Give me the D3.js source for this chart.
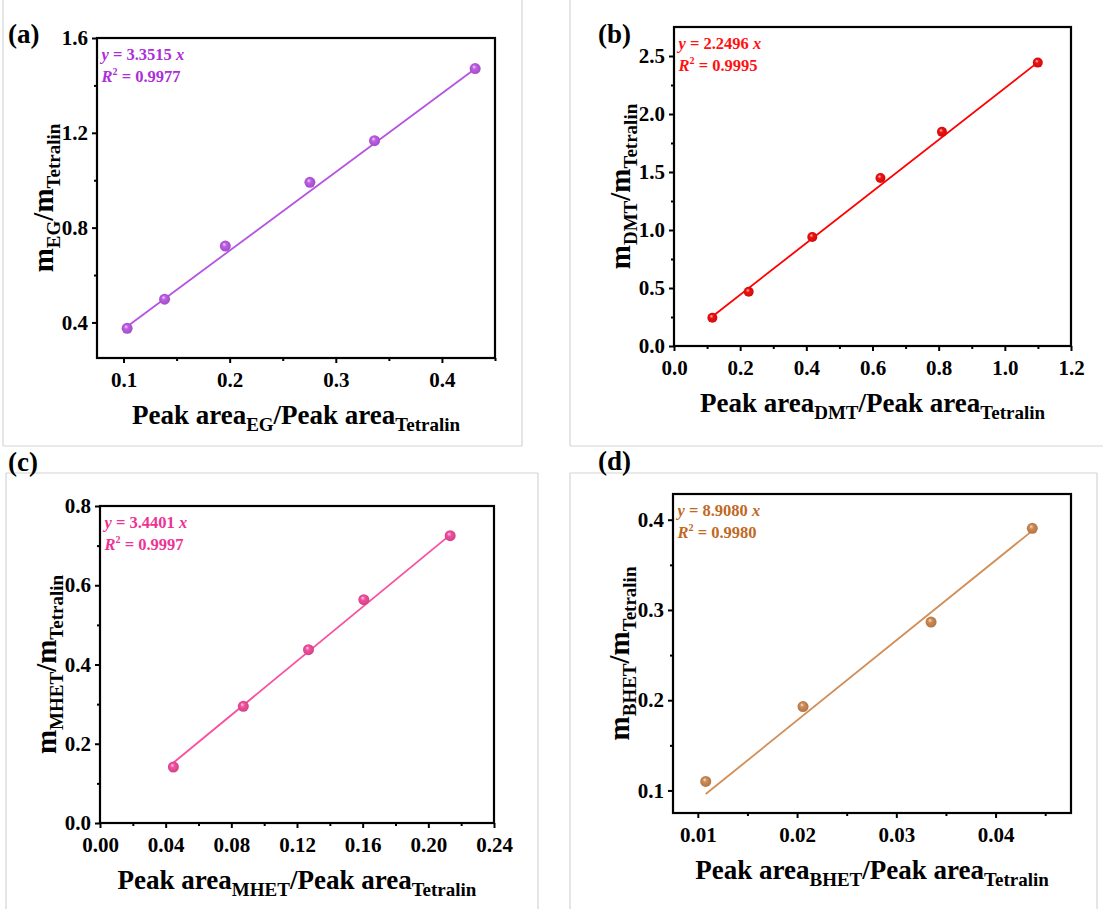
<!DOCTYPE html>
<html><head><meta charset="utf-8">
<script src="https://cdn.jsdelivr.net/npm/d3@7"></script>
<style>
html,body{margin:0;padding:0;background:#fff;}
svg{display:block;}
svg text{font-family:"Liberation Serif","Times New Roman",serif !important;font-weight:bold;}
</style></head>
<body>
<svg id="chart" width="1103" height="909"></svg>
<script>
// ---------- data ----------
const egX = [0.1034, 0.1387, 0.1959, 0.2756, 0.3365, 0.4313];
const egY = [0.375, 0.498, 0.722, 0.991, 1.167, 1.471];
const egFitX = [0.1034, 0.4313];
const egFitY = [0.383, 1.470];

const dmtX = [0.116, 0.2258, 0.418, 0.624, 0.810, 1.0996];
const dmtY = [0.244, 0.467, 0.940, 1.448, 1.846, 2.443];
const dmtFitX = [0.116, 1.0996];
const dmtFitY = [0.255, 2.445];

const mhetX = [0.0447, 0.0873, 0.127, 0.1607, 0.2133];
const mhetY = [0.1413, 0.2944, 0.4374, 0.5636, 0.7251];
const mhetFitX = [0.0447, 0.2133];
const mhetFitY = [0.152, 0.727];

const bhetX = [0.0108, 0.0206, 0.0335, 0.0437];
const bhetY = [0.110, 0.193, 0.2866, 0.3905];
const bhetFitX = [0.0108, 0.0435];
const bhetFitY = [0.096, 0.386];

const egXTicks = [0.1, 0.2, 0.3, 0.4];
const egXMinor = [0.15, 0.25, 0.35, 0.45];
const egYTicks = [0.4, 0.8, 1.2, 1.6];
const egYMinor = [0.6, 1.0, 1.4];

const dmtXTicks = [0, 0.2, 0.4, 0.6, 0.8, 1.0, 1.2];
const dmtXMinor = [0.1, 0.3, 0.5, 0.7, 0.9, 1.1];
const dmtYTicks = [0, 0.5, 1.0, 1.5, 2.0, 2.5];
const dmtYMinor = [0.25, 0.75, 1.25, 1.75, 2.25];

const mhetXTicks = [0, 0.04, 0.08, 0.12, 0.16, 0.20, 0.24];
const mhetXMinor = [0.02, 0.06, 0.10, 0.14, 0.18, 0.22];
const mhetYTicks = [0, 0.2, 0.4, 0.6, 0.8];
const mhetYMinor = [0.1, 0.3, 0.5, 0.7];

const bhetXTicks = [0.01, 0.02, 0.03, 0.04];
const bhetXMinor = [0.015, 0.025, 0.035, 0.045];
const bhetYTicks = [0.1, 0.2, 0.3, 0.4];
const bhetYMinor = [0.15, 0.25, 0.35];

const panelLabels = ["(a)", "(b)", "(c)", "(d)"];
const subs = ["EG", "DMT", "MHET", "BHET"];
const equations = ["3.3515", "2.2496", "3.4401", "8.9080"];
const r2s = ["0.9977", "0.9995", "0.9997", "0.9980"];

// ---------- layout / style ----------
const FONT = '"Liberation Serif","Times New Roman",serif';
const panels = [
  {xs: egX, ys: egY, fx: egFitX, fy: egFitY, xt: egXTicks, xm: egXMinor, yt: egYTicks, ym: egYMinor,
   xd: [0.075, 0.45], yd: [0.25, 1.6], L: 97, R: 495, T: 38, B: 358, xf: ".1f", yf: ".1f",
   line: "#B653E4", text: "#AC2ED8", pt: "#BE5CE6", r: 5.5, lab: [8, 43]},
  {xs: dmtX, ys: dmtY, fx: dmtFitX, fy: dmtFitY, xt: dmtXTicks, xm: dmtXMinor, yt: dmtYTicks, ym: dmtYMinor,
   xd: [0, 1.2], yd: [0, 2.75], L: 674, R: 1071, T: 27, B: 346, xf: ".1f", yf: ".1f",
   line: "#FF0000", text: "#FF1111", pt: "#F01010", r: 5, lab: [598, 43]},
  {xs: mhetX, ys: mhetY, fx: mhetFitX, fy: mhetFitY, xt: mhetXTicks, xm: mhetXMinor, yt: mhetYTicks, ym: mhetYMinor,
   xd: [0, 0.24], yd: [0, 0.8], L: 100, R: 494, T: 506, B: 823, xf: ".2f", yf: ".1f",
   line: "#F8509F", text: "#EE3393", pt: "#F2509E", r: 5.5, lab: [8, 471]},
  {xs: bhetX, ys: bhetY, fx: bhetFitX, fy: bhetFitY, xt: bhetXTicks, xm: bhetXMinor, yt: bhetYTicks, ym: bhetYMinor,
   xd: [0.0075, 0.0476], yd: [0.075, 0.4285], L: 673, R: 1071, T: 494, B: 813, xf: ".2f", yf: ".1f",
   line: "#D28E57", text: "#C0691F", pt: "#CF8A52", r: 5.5, lab: [598, 470]}
];

const svg = d3.select("#chart");
svg.append("rect").attr("width", 1103).attr("height", 909).attr("fill", "#fff");

// light gray panel boxes
const boxLines = [
  [3, 0, 3, 446], [3, 446, 522, 446], [522, 0, 522, 446],
  [570, 0, 570, 446], [570, 446, 1103, 446],
  [6, 473, 538, 473], [6, 473, 6, 909], [538, 473, 538, 909],
  [570, 473, 1097, 473], [570, 473, 570, 909], [1097, 473, 1097, 909]
];
svg.append("g").selectAll("line").data(boxLines).join("line")
  .attr("x1", d => d[0]).attr("y1", d => d[1]).attr("x2", d => d[2]).attr("y2", d => d[3])
  .attr("stroke", "#d4d4d4").attr("stroke-width", 1.2);

const defs = svg.append("defs");

function styleAxis(a, withText) {
  a.attr("font-family", FONT).attr("font-size", 20);
  a.select(".domain").remove();
  a.selectAll("line").attr("stroke", "#000").attr("stroke-width", 2);
  if (withText) a.selectAll("text").attr("fill", "#000").attr("font-weight", "bold")
    .attr("font-family", FONT).attr("font-size", 21);
}

panels.forEach((p, i) => {
  const g = svg.append("g");
  const x = d3.scaleLinear().domain(p.xd).range([p.L, p.R]);
  const y = d3.scaleLinear().domain(p.yd).range([p.B, p.T]);

  // gradient for sphere markers
  const gid = "grad" + i;
  const gr = defs.append("radialGradient").attr("id", gid)
    .attr("cx", "50%").attr("cy", "50%").attr("r", "55%")
    .attr("fx", "38%").attr("fy", "32%");
  gr.append("stop").attr("offset", "0%").attr("stop-color", d3.interpolateRgb(p.pt, "#ffffff")(0.75));
  gr.append("stop").attr("offset", "35%").attr("stop-color", p.pt);
  gr.append("stop").attr("offset", "100%").attr("stop-color", d3.color(p.pt).darker(0.5));

  // minor ticks
  g.append("g").attr("transform", `translate(0,${p.B})`)
    .call(d3.axisBottom(x).tickValues(p.xm).tickSize(3).tickFormat(""))
    .call(a => styleAxis(a, false));
  g.append("g").attr("transform", `translate(${p.L},0)`)
    .call(d3.axisLeft(y).tickValues(p.ym).tickSize(3).tickFormat(""))
    .call(a => styleAxis(a, false));

  // major ticks
  g.append("g").attr("transform", `translate(0,${p.B})`)
    .call(d3.axisBottom(x).tickValues(p.xt).tickSize(5).tickPadding(9).tickFormat(d3.format(p.xf)))
    .call(a => styleAxis(a, true));
  g.append("g").attr("transform", `translate(${p.L},0)`)
    .call(d3.axisLeft(y).tickValues(p.yt).tickSize(5).tickPadding(4).tickFormat(d3.format(p.yf)))
    .call(a => styleAxis(a, true));

  // frame
  g.append("rect").attr("x", p.L).attr("y", p.T).attr("width", p.R - p.L).attr("height", p.B - p.T)
    .attr("fill", "none").attr("stroke", "#000").attr("stroke-width", 2.2);

  // fit line
  const fit = p.fx.map((v, k) => [v, p.fy[k]]);
  g.append("path").datum(fit)
    .attr("d", d3.line().x(d => x(d[0])).y(d => y(d[1])))
    .attr("stroke", p.line).attr("stroke-width", 1.8).attr("fill", "none");

  // points
  const pts = p.xs.map((v, k) => [v, p.ys[k]]);
  g.append("g").selectAll("circle").data(pts).join("circle")
    .attr("cx", d => x(d[0])).attr("cy", d => y(d[1])).attr("r", p.r)
    .attr("fill", `url(#${gid})`);

  // equation text
  const eq = g.append("text").attr("x", p.L + 4.5).attr("y", p.T + 21.5)
    .attr("font-size", 16.5).attr("fill", p.text);
  eq.append("tspan").attr("font-style", "italic").text("y");
  eq.append("tspan").text(" = " + equations[i] + " ");
  eq.append("tspan").attr("font-style", "italic").text("x");
  const rt = g.append("text").attr("x", p.L + 4.5).attr("y", p.T + 43.5)
    .attr("font-size", 16.5).attr("fill", p.text);
  rt.append("tspan").attr("font-style", "italic").text("R");
  rt.append("tspan").attr("font-size", 10).attr("dy", -7).text("2");
  rt.append("tspan").attr("dy", 7).text(" = " + r2s[i]);

  // x title
  const cx = (p.L + p.R) / 2;
  const xt = g.append("text").attr("x", cx).attr("y", p.B + 66)
    .attr("text-anchor", "middle").attr("font-size", 27).attr("fill", "#000");
  xt.append("tspan").text("Peak area");
  xt.append("tspan").attr("font-size", 19).attr("dy", 7).text(subs[i]);
  xt.append("tspan").attr("dy", -7).text("/Peak area");
  xt.append("tspan").attr("font-size", 19).attr("dy", 7).text("Tetralin");

  // y title
  const cy = (p.T + p.B) / 2;
  const yt = g.append("text").attr("transform", `translate(${p.L - 44},${cy}) rotate(-90)`)
    .attr("text-anchor", "middle").attr("font-size", 29).attr("fill", "#000");
  yt.append("tspan").text("m");
  yt.append("tspan").attr("font-size", 19).attr("dy", 7).text(subs[i]);
  yt.append("tspan").attr("dy", -7).text("/m");
  yt.append("tspan").attr("font-size", 19).attr("dy", 7).text("Tetralin");

  // panel label
  svg.append("text").attr("x", p.lab[0]).attr("y", p.lab[1])
    .attr("font-size", 27).attr("fill", "#000").text(panelLabels[i]);
});
</script>
</body></html>
